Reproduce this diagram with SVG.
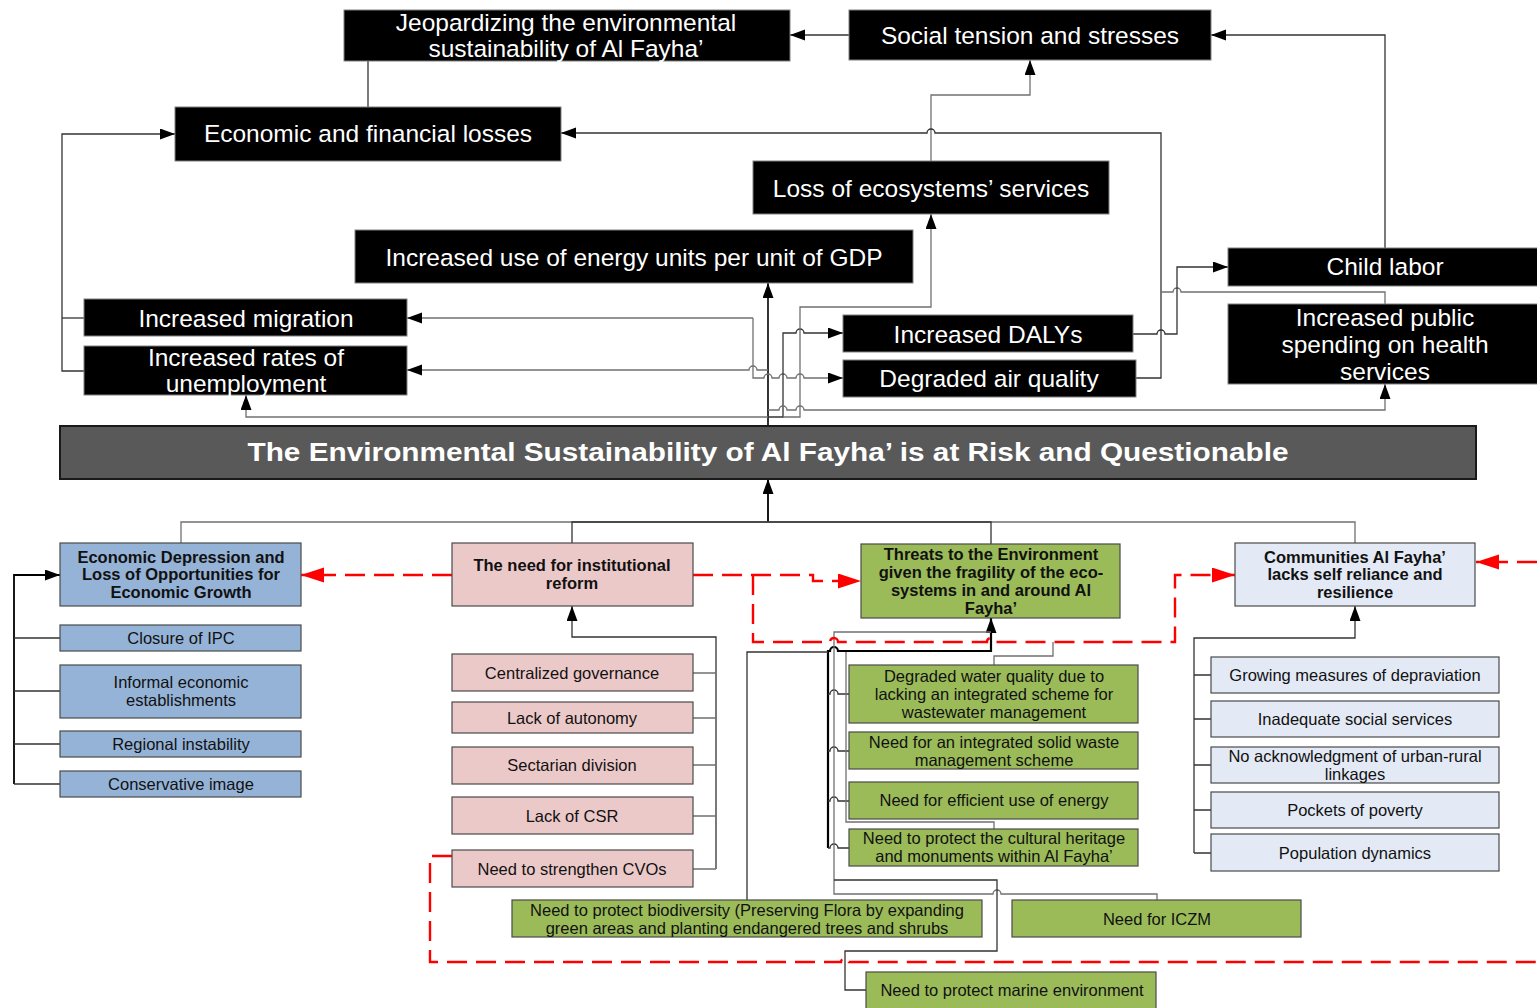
<svg xmlns="http://www.w3.org/2000/svg" width="1537" height="1008" viewBox="0 0 1537 1008">
  <style>
    text { font-family: "Liberation Sans", Arial, sans-serif; text-anchor: middle; }
    .blk rect { fill: #000; stroke: #808080; stroke-width: 1; }
    .blk text { fill: #fff; font-size: 24.5px; }
    .hdr text { font-size: 16.5px; font-weight: bold; fill: #111; }
    .sub text { font-size: 16.5px; fill: #111; }
    .bx { stroke: #4a4a4a; stroke-width: 1.2; }
    .blue { fill: #95b3d7; }
    .pink { fill: #ecc9c9; }
    .green { fill: #9bbb59; }
    .pale { fill: #e3eaf5; }
    .ln { fill: none; stroke: #333; stroke-width: 1.3; }
    .lg { fill: none; stroke: #707070; stroke-width: 1.3; }
    .thick { fill: none; stroke: #000; stroke-width: 2.2; }
    .red { fill: none; stroke: #ff0000; stroke-width: 2.4; stroke-dasharray: 20 9; }
  </style>
  <defs>
    <marker id="ah" markerUnits="userSpaceOnUse" markerWidth="16" markerHeight="12" refX="15" refY="5.5" orient="auto">
      <path d="M0,0 L15,5.5 L0,11 z" fill="#000"/>
    </marker>
    <marker id="ahr" markerUnits="userSpaceOnUse" markerWidth="24" markerHeight="16" refX="23" refY="7.5" orient="auto">
      <path d="M0,0 L23,7.5 L0,15 z" fill="#ff0000"/>
    </marker>
  </defs>

  <!-- connectors -->
  <g id="connectors">
    <!-- upper consequence tree -->
    <path class="ln" d="M849,35 H790" marker-end="url(#ah)"/>
    <path class="ln" d="M1385,248 V35 H1211" marker-end="url(#ah)"/>
    <path class="ln" d="M368,107 V61"/>
    <path class="lg" d="M931,161 V95 H1030 V60" marker-end="url(#ah)"/>
    <path class="ln" d="M1136,378 H1161 V133 H935 a4,4 0 0 0 -8,0 H561" marker-end="url(#ah)"/>
    <path class="lg" d="M1161,292 H1173 a4,4 0 0 1 8,0 H1385 V304"/>
    <path class="ln" d="M1133,334 H1157 a4,4 0 0 1 8,0 H1177 V267 H1228" marker-end="url(#ah)"/>
    <path class="ln" d="M768,426 V283" marker-end="url(#ah)" style="stroke:#000;stroke-width:1.6"/>
    <path class="lg" d="M768,370 H757 a4,4 0 0 0 -8,0 H407" marker-end="url(#ah)"/>
    <path class="lg" d="M753,318 H407" marker-end="url(#ah)"/>
    <path class="lg" d="M753,318 V378 H764 a4,4 0 0 1 8,0 H779 a4,4 0 0 1 8,0 H796 a4,4 0 0 1 8,0 H843" marker-end="url(#ah)"/>
    <path class="ln" d="M768,417 H783 V333 H796 a4,4 0 0 1 8,0 H843" marker-end="url(#ah)"/>
    <path class="lg" d="M783,417 H800 V307 H931 V214" marker-end="url(#ah)"/>
    <path class="lg" d="M768,417 H246 V395" marker-end="url(#ah)"/>
    <path class="lg" d="M768,410 H779 a4,4 0 0 1 8,0 H796 a4,4 0 0 1 8,0 H1385 V384" marker-end="url(#ah)"/>
    <path class="ln" d="M84,371 H62 V134 H175" marker-end="url(#ah)"/>
    <path class="ln" d="M84,318 H62"/>

    <!-- root causes to the core problem -->
    <path class="ln" d="M768,522 V479" marker-end="url(#ah)" style="stroke:#000;stroke-width:1.8"/>
    <path class="lg" d="M181,543 V522 H1355 V543"/>
    <path class="ln" d="M572,543 V522 H991 V544"/>

    <!-- economic branch -->
    <path class="ln" d="M14,784 V575 H60" marker-end="url(#ah)" style="stroke-width:1.8;stroke:#000"/>
    <path class="ln" d="M14,638 H60 M14,691 H60 M14,744 H60 M14,784 H60"/>

    <!-- institutional branch -->
    <path class="ln" d="M716,869 V637 H572 V606" marker-end="url(#ah)"/>
    <path class="lg" d="M693,673 H716 M693,718 H716 M693,765 H716 M693,816 H716 M693,869 H716"/>

    <!-- community branch -->
    <path class="ln" d="M1194,853 V638 H1355 V606" marker-end="url(#ah)"/>
    <path class="ln" d="M1194,675 H1211 M1194,719 H1211 M1194,765 H1211 M1194,810 H1211 M1194,853 H1211"/>

    <!-- environmental branch -->
    <path class="thick" d="M828,848 V651 H830 a4,4 0 0 1 8,0 H991 V618" marker-end="url(#ah)"/>
    <path class="ln" d="M849,694 H838 a4,4 0 0 0 -8,0 H828 M849,751 H838 a4,4 0 0 0 -8,0 H828 M849,801 H838 a4,4 0 0 0 -8,0 H828 M849,848 H838 a4,4 0 0 0 -8,0 H828"/>
    <path class="lg" d="M991,632 H834 V894 H993 a4,4 0 0 1 8,0 H1157 V900"/>
    <path class="ln" d="M747,900 V652 H828"/>
    <path class="lg" d="M846,652 V822 H994 V829"/>
    <path class="lg" d="M994,665 V656 H1053 V642"/>
    <path class="ln" d="M866,990 H845 V951 H997 V880 H834"/>

    <!-- dashed links between root causes -->
    <path class="red" d="M452,575 H301" marker-end="url(#ahr)"/>
    <path class="red" d="M693,575 H813 V581 H861" marker-end="url(#ahr)"/>
    <path class="red" d="M753,575 V642 H830 a4,4 0 0 1 8,0 H987 a4,4 0 0 1 8,0 H1175 V575 H1235" marker-end="url(#ahr)"/>
    <path class="red" d="M1537,562 H1476" marker-end="url(#ahr)"/>
    <path class="red" d="M452,856 H430 V962 H841 a4,4 0 0 1 8,0 H1537"/>
  </g>

  <!-- effects -->
  <g id="jeopardizing" class="blk">
    <rect x="344" y="10" width="446" height="51"/>
    <text x="566" y="31">Jeopardizing the environmental</text>
    <text x="566" y="57">sustainability of Al Fayha’</text>
  </g>
  <g id="social-tension" class="blk">
    <rect x="849" y="10" width="362" height="50"/>
    <text x="1030" y="44">Social tension and stresses</text>
  </g>
  <g id="economic-losses" class="blk">
    <rect x="175" y="107" width="386" height="54"/>
    <text x="368" y="142">Economic and financial losses</text>
  </g>
  <g id="ecosystem-loss" class="blk">
    <rect x="753" y="161" width="356" height="53"/>
    <text x="931" y="197">Loss of ecosystems’ services</text>
  </g>
  <g id="energy-use" class="blk">
    <rect x="355" y="230" width="558" height="53"/>
    <text x="634" y="266">Increased use of energy units per unit of GDP</text>
  </g>
  <g id="migration" class="blk">
    <rect x="84" y="299" width="323" height="37"/>
    <text x="246" y="327">Increased migration</text>
  </g>
  <g id="unemployment" class="blk">
    <rect x="84" y="346" width="323" height="49"/>
    <text x="246" y="366">Increased rates of</text>
    <text x="246" y="392">unemployment</text>
  </g>
  <g id="dalys" class="blk">
    <rect x="843" y="315" width="290" height="37"/>
    <text x="988" y="343">Increased DALYs</text>
  </g>
  <g id="air-quality" class="blk">
    <rect x="843" y="360" width="293" height="37"/>
    <text x="989" y="387">Degraded air quality</text>
  </g>
  <g id="child-labor" class="blk">
    <rect x="1228" y="248" width="310" height="38"/>
    <text x="1385" y="275">Child labor</text>
  </g>
  <g id="health-spending" class="blk">
    <rect x="1228" y="304" width="310" height="80"/>
    <text x="1385" y="326">Increased public</text>
    <text x="1385" y="353">spending on health</text>
    <text x="1385" y="380">services</text>
  </g>

  <!-- core problem -->
  <g id="core-problem">
    <rect x="60" y="426" width="1416" height="53" fill="#595959" stroke="#1a1a1a" stroke-width="2"/>
    <text x="768" y="461" fill="#fff" font-size="26" font-weight="bold" textLength="1041" lengthAdjust="spacingAndGlyphs">The Environmental Sustainability of Al Fayha’ is at Risk and Questionable</text>
  </g>

  <!-- economic causes -->
  <g id="economic-depression" class="hdr">
    <rect class="bx blue" x="60" y="543" width="241" height="63"/>
    <text x="181" y="563">Economic Depression and</text>
    <text x="181" y="580">Loss of Opportunities for</text>
    <text x="181" y="598">Economic Growth</text>
  </g>
  <g id="closure-ipc" class="sub">
    <rect class="bx blue" x="60" y="625" width="241" height="26"/>
    <text x="181" y="644">Closure of IPC</text>
  </g>
  <g id="informal-economy" class="sub">
    <rect class="bx blue" x="60" y="665" width="241" height="53"/>
    <text x="181" y="688">Informal economic</text>
    <text x="181" y="706">establishments</text>
  </g>
  <g id="regional-instability" class="sub">
    <rect class="bx blue" x="60" y="731" width="241" height="26"/>
    <text x="181" y="750">Regional instability</text>
  </g>
  <g id="conservative-image" class="sub">
    <rect class="bx blue" x="60" y="771" width="241" height="26"/>
    <text x="181" y="790">Conservative image</text>
  </g>

  <!-- institutional causes -->
  <g id="institutional-reform" class="hdr">
    <rect class="bx pink" x="452" y="543" width="241" height="63"/>
    <text x="572" y="571">The need for institutional</text>
    <text x="572" y="589">reform</text>
  </g>
  <g id="centralized-governance" class="sub">
    <rect class="bx pink" x="452" y="654" width="241" height="37"/>
    <text x="572" y="679">Centralized governance</text>
  </g>
  <g id="lack-autonomy" class="sub">
    <rect class="bx pink" x="452" y="702" width="241" height="31"/>
    <text x="572" y="724">Lack of autonomy</text>
  </g>
  <g id="sectarian-division" class="sub">
    <rect class="bx pink" x="452" y="747" width="241" height="37"/>
    <text x="572" y="771">Sectarian division</text>
  </g>
  <g id="lack-csr" class="sub">
    <rect class="bx pink" x="452" y="797" width="241" height="37"/>
    <text x="572" y="822">Lack of CSR</text>
  </g>
  <g id="strengthen-cvos" class="sub">
    <rect class="bx pink" x="452" y="850" width="241" height="37"/>
    <text x="572" y="875">Need to strengthen CVOs</text>
  </g>

  <!-- environmental causes -->
  <g id="environment-threats" class="hdr">
    <rect class="bx green" x="861" y="544" width="259" height="74"/>
    <text x="991" y="560">Threats to the Environment</text>
    <text x="991" y="578">given the fragility of the eco-</text>
    <text x="991" y="596">systems in and around Al</text>
    <text x="991" y="614">Fayha’</text>
  </g>
  <g id="water-quality" class="sub">
    <rect class="bx green" x="849" y="665" width="289" height="58"/>
    <text x="994" y="682">Degraded water quality due to</text>
    <text x="994" y="700">lacking an integrated scheme for</text>
    <text x="994" y="718">wastewater management</text>
  </g>
  <g id="solid-waste" class="sub">
    <rect class="bx green" x="849" y="732" width="289" height="37"/>
    <text x="994" y="748">Need for an integrated solid waste</text>
    <text x="994" y="766">management scheme</text>
  </g>
  <g id="energy-efficiency" class="sub">
    <rect class="bx green" x="849" y="782" width="289" height="37"/>
    <text x="994" y="806">Need for efficient use of energy</text>
  </g>
  <g id="cultural-heritage" class="sub">
    <rect class="bx green" x="849" y="829" width="289" height="37"/>
    <text x="994" y="844">Need to protect the cultural heritage</text>
    <text x="994" y="862">and monuments within Al Fayha’</text>
  </g>
  <g id="biodiversity" class="sub">
    <rect class="bx green" x="512" y="900" width="470" height="37"/>
    <text x="747" y="916">Need to protect biodiversity (Preserving Flora by expanding</text>
    <text x="747" y="934">green areas and planting endangered trees and shrubs</text>
  </g>
  <g id="iczm" class="sub">
    <rect class="bx green" x="1012" y="900" width="289" height="37"/>
    <text x="1157" y="925">Need for ICZM</text>
  </g>
  <g id="marine-environment" class="sub">
    <rect class="bx green" x="866" y="972" width="290" height="40"/>
    <text x="1012" y="996">Need to protect marine environment</text>
  </g>

  <!-- community causes -->
  <g id="community-resilience" class="hdr">
    <rect class="bx pale" x="1235" y="543" width="240" height="63"/>
    <text x="1355" y="563">Communities Al Fayha’</text>
    <text x="1355" y="580">lacks self reliance and</text>
    <text x="1355" y="598">resilience</text>
  </g>
  <g id="depravation" class="sub">
    <rect class="bx pale" x="1211" y="657" width="288" height="36"/>
    <text x="1355" y="681">Growing measures of depraviation</text>
  </g>
  <g id="social-services" class="sub">
    <rect class="bx pale" x="1211" y="701" width="288" height="36"/>
    <text x="1355" y="725">Inadequate social services</text>
  </g>
  <g id="urban-rural" class="sub">
    <rect class="bx pale" x="1211" y="747" width="288" height="36"/>
    <text x="1355" y="762">No acknowledgment of urban-rural</text>
    <text x="1355" y="780">linkages</text>
  </g>
  <g id="poverty" class="sub">
    <rect class="bx pale" x="1211" y="792" width="288" height="36"/>
    <text x="1355" y="816">Pockets of poverty</text>
  </g>
  <g id="population" class="sub">
    <rect class="bx pale" x="1211" y="834" width="288" height="37"/>
    <text x="1355" y="859">Population dynamics</text>
  </g>
</svg>
